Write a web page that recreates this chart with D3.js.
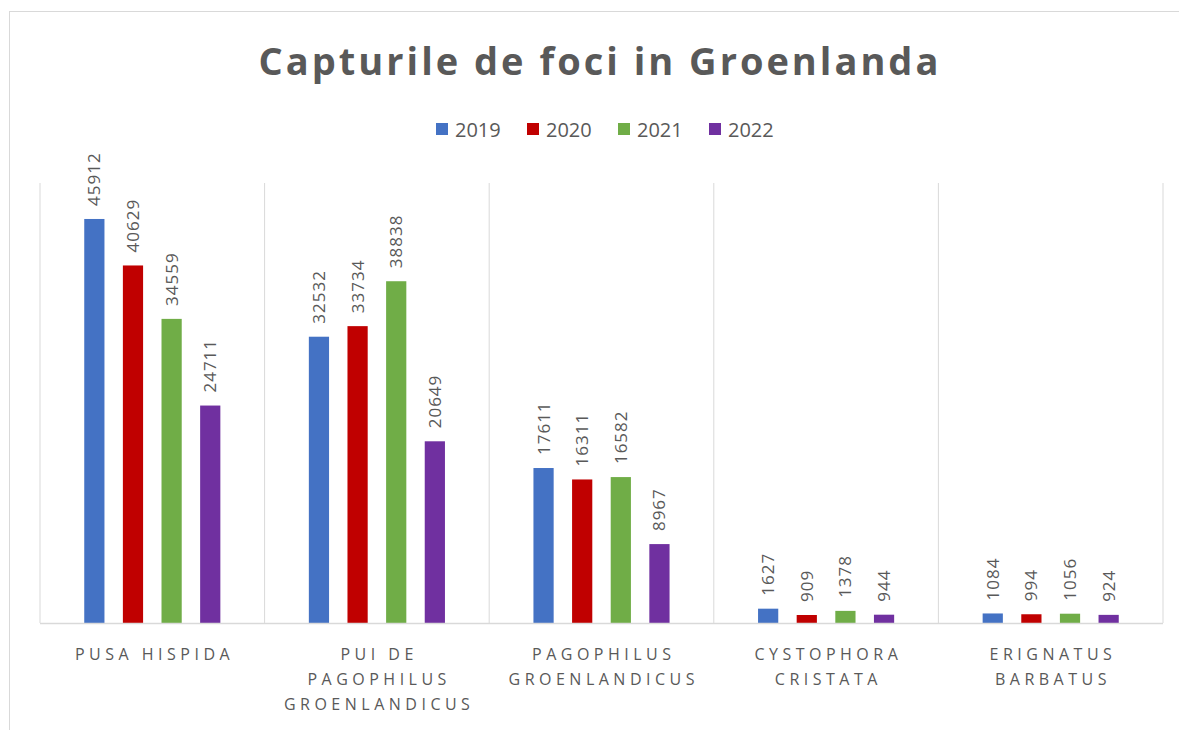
<!DOCTYPE html>
<html>
<head>
<meta charset="utf-8">
<script src="https://cdn.jsdelivr.net/npm/d3@7"></script>
<style>
  body { margin: 0; background: #fff; }
  svg { display: block; font-family: "Open Sans", "Noto Sans", sans-serif; }
</style>
</head>
<body>
<svg width="1179" height="730"></svg>
<script>
// date
const categories = [
  ["PUSA HISPIDA"],
  ["PUI DE", "PAGOPHILUS", "GROENLANDICUS"],
  ["PAGOPHILUS", "GROENLANDICUS"],
  ["CYSTOPHORA", "CRISTATA"],
  ["ERIGNATUS", "BARBATUS"]
];
const years = ["2019", "2020", "2021", "2022"];
const v2019 = [45912, 32532, 17611, 1627, 1084];
const v2020 = [40629, 33734, 16311, 909, 994];
const v2021 = [34559, 38838, 16582, 1378, 1056];
const v2022 = [24711, 20649, 8967, 944, 924];
const yDomain = [0, 50000];

const series = [v2019, v2020, v2021, v2022];
const colors = ["#4472C4", "#C00000", "#70AD47", "#7030A0"];

const svg = d3.select("svg");

// chenar
svg.append("rect")
   .attr("x", 9.5).attr("y", 11.5)
   .attr("width", 1200).attr("height", 800)
   .attr("fill", "none")
   .attr("stroke", "#d9d9d9");

// titlu
svg.append("text")
   .attr("x", 600).attr("y", 75)
   .attr("text-anchor", "middle")
   .attr("fill", "#595959")
   .style("font-size", "38px")
   .style("font-weight", "bold")
   .style("letter-spacing", "3px")
   .text("Capturile de foci in Groenlanda");

// legenda
const legend = svg.append("g");
years.forEach((y, i) => {
  const g = legend.append("g").attr("transform", `translate(${436 + i * 91}, 130)`);
  g.append("rect").attr("x", 0).attr("y", -7).attr("width", 12).attr("height", 12).attr("fill", colors[i]);
  g.append("text").attr("x", 19).attr("y", 7)
   .attr("fill", "#595959").style("font-size", "20px")
   .text(y);
});

// scale
const xScale = d3.scaleBand()
                 .domain(d3.range(categories.length))
                 .range([40, 1163]);
const yScale = d3.scaleLinear().domain(yDomain).range([623, 183]);

const bw = xScale.bandwidth();
const step = bw * 0.172;
const barW = bw * 0.09;

// linii verticale intre categorii
const edges = d3.range(categories.length + 1).map(i => 40 + i * bw);
svg.selectAll(".grid")
   .data(edges)
   .enter().append("line")
   .attr("x1", d => d).attr("x2", d => d)
   .attr("y1", yScale(yDomain[1])).attr("y2", yScale(0))
   .attr("stroke", "#d9d9d9").attr("stroke-width", 1);

// bare
series.forEach((vals, j) => {
  const cx = i => xScale(i) + bw / 2 + (j - 1.5) * step;
  svg.selectAll(`.bar${j}`)
     .data(vals)
     .enter().append("rect")
     .attr("x", (d, i) => cx(i) - barW / 2)
     .attr("y", d => yScale(d))
     .attr("width", barW)
     .attr("height", d => yScale(0) - yScale(d))
     .attr("fill", colors[j]);

  svg.selectAll(`.lab${j}`)
     .data(vals)
     .enter().append("text")
     .attr("transform", (d, i) => `translate(${cx(i) + 6}, ${yScale(d) - 13}) rotate(-90)`)
     .attr("fill", "#595959")
     .style("font-size", "17px")
     .style("letter-spacing", "1px")
     .text(d => d);
});

// axa x
svg.append("line")
   .attr("x1", 40).attr("x2", 1163)
   .attr("y1", 623.5).attr("y2", 623.5)
   .attr("stroke", "#d9d9d9").attr("stroke-width", 1.5);

categories.forEach((lines, i) => {
  const t = svg.append("text")
     .attr("x", xScale(i) + bw / 2)
     .attr("y", 660)
     .attr("text-anchor", "middle")
     .attr("fill", "#595959")
     .style("font-size", "16px")
     .style("letter-spacing", "4.5px");
  lines.forEach((l, k) => {
    t.append("tspan").attr("x", xScale(i) + bw / 2 + 2.25).attr("dy", k === 0 ? 0 : 25).text(l);
  });
});
</script>
</body>
</html>
